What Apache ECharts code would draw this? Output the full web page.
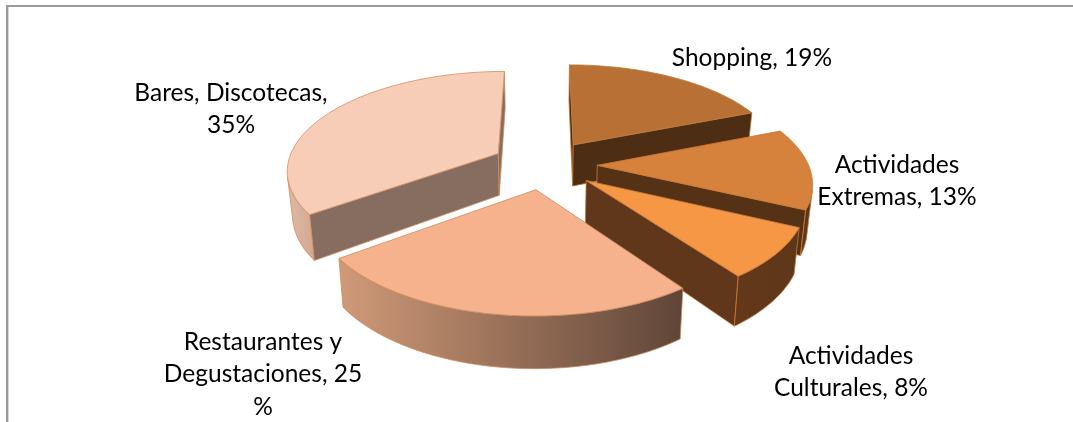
<!DOCTYPE html>
<html><head><meta charset="utf-8">
<style>html,body{margin:0;padding:0;background:#fff}#c{width:1073px;height:422px}</style>
<script src="https://cdn.jsdelivr.net/npm/echarts@6/dist/echarts.min.js"></script>
</head><body><div id="c"></div>
<script>
const categories = ['Shopping','Actividades Extremas','Actividades Culturales','Restaurantes y Degustaciones','Bares, Discotecas'];
const shares = [19,13,8,25,35];
const labelLines = [
  ['Shopping, 19%'],
  ['Actividades','Extremas, 13%'],
  ['Actividades','Culturales, 8%'],
  ['Restaurantes y','Degustaciones, 25','%'],
  ['Bares, Discotecas,','35%']
];
const topColors = ['#b87034','#d6813c','#f59744','#f5b28c','#f7cdb7'];
const radialColors = ['#4d2d13','#553116','#60371a','#7f6152','#866d5f'];
const outerLeft = ['#7a4a22','#653a18','#64391a','#d09a78','#dfb9a5'];
const outerRight = ['#7a4a22','#5a3316','#5e3619','#5f4538','#d3a890'];
const edgeColors = ['#c07a3a','#c87a38','#c8793a','#c98a5c','#d08e62'];
const labelCenters = [[752,58],[897,165],[851,356],[263,342],[231,93]];

const view = {cx:544.5, cy:164.5, rx:211, ry:98, persp:0.155, explode:0.25, depth:42.5, baseShrink:0.98};
const lineHeight = 32.5;

function project(X,Z,bottom){
  const s = 1/(1-view.persp*Z);
  let x = X*view.rx*s, y = Z*view.ry*s;
  if(bottom){ x*=view.baseShrink; y+=view.depth*s; }
  return [view.cx+x, view.cy+y];
}
function area(p){let a=0;for(let i=0;i<p.length;i++){const q=p[(i+1)%p.length];a+=p[i][0]*q[1]-q[0]*p[i][1];}return a;}
const total = shares.reduce((a,b)=>a+b,0);
let acc=0;
const slices = shares.map((v,i)=>{const a0=acc/total*Math.PI*2;acc+=v;const a1=acc/total*Math.PI*2;return {i,a0,a1,mid:(a0+a1)/2};});
const drawOrder = slices.slice().sort((p,q)=>(-Math.cos(p.mid))-(-Math.cos(q.mid))).map(s=>s.i);

function sliceShapes(idx){
  const sl = slices[idx];
  const ax = view.explode*Math.sin(sl.mid), az = -view.explode*Math.cos(sl.mid);
  const rim = a=>[ax+Math.sin(a), az-Math.cos(a)];
  const n = Math.max(8,Math.round((sl.a1-sl.a0)/(Math.PI/180)));
  const angles=[];for(let k=0;k<=n;k++)angles.push(sl.a0+(sl.a1-sl.a0)*k/n);
  const T=a=>{const r=rim(a);return project(r[0],r[1],false);};
  const B=a=>{const r=rim(a);return project(r[0],r[1],true);};
  const aT=project(ax,az,false), aB=project(ax,az,true);
  const out=[];
  const edge=edgeColors[idx];
  const poly=(pts,fill,w)=>out.push({type:'polygon',shape:{points:pts},style:{fill:fill,stroke:edge,lineWidth:w==null?0.8:w,lineJoin:'round'}});
  const st=[aT,T(sl.a0),B(sl.a0),aB];
  const en=[aT,T(sl.a1),B(sl.a1),aB];
  if(area(st)<0) poly(st,radialColors[idx]);
  if(area(en)>0) poly(en,radialColors[idx]);
  let run=[];
  const flush=()=>{
    if(run.length>1){
      const pts=run.map(T).concat(run.slice().reverse().map(B));
      const grad=new echarts.graphic.LinearGradient(0,0,1,0,[{offset:0,color:outerLeft[idx]},{offset:1,color:outerRight[idx]}]);
      poly(pts,grad);
    }
    run=[];
  };
  for(let k=0;k<n;k++){
    const q=[T(angles[k]),T(angles[k+1]),B(angles[k+1]),B(angles[k])];
    if(area(q)<0){ if(!run.length) run.push(angles[k]); run.push(angles[k+1]); }
    else flush();
  }
  flush();
  poly([aT].concat(angles.map(T)),topColors[idx]);
  return out;
}

const textEls=[];
labelLines.forEach((lines,i)=>lines.forEach((t,j)=>textEls.push({
  type:'text',silent:true,x:labelCenters[i][0],y:labelCenters[i][1]+j*lineHeight,
  style:{text:t,font:'24.5px Lato',fill:'#000',textAlign:'center',textVerticalAlign:'middle'}
})));

const chart=echarts.init(document.getElementById('c'),null,{renderer:'canvas'});
chart.setOption({
  animation:false,
  backgroundColor:'#fff',
  graphic:{elements:[
    {type:'rect',shape:{x:6,y:5,width:1067,height:2},style:{fill:'#9a9a9a'},silent:true},
    {type:'rect',shape:{x:6,y:5,width:2,height:417},style:{fill:'#9a9a9a'},silent:true},
    {type:'rect',shape:{x:8,y:7,width:1,height:415},style:{fill:'#d9d9d9'},silent:true}
  ].concat(textEls)},
  series:[{
    type:'custom',coordinateSystem:'none',silent:true,
    data:drawOrder.map(i=>({value:[shares[i]],name:categories[i],sliceIndex:i})),
    renderItem:function(params){
      return {type:'group',children:sliceShapes(drawOrder[params.dataIndex])};
    }
  }]
});
</script></body></html>
